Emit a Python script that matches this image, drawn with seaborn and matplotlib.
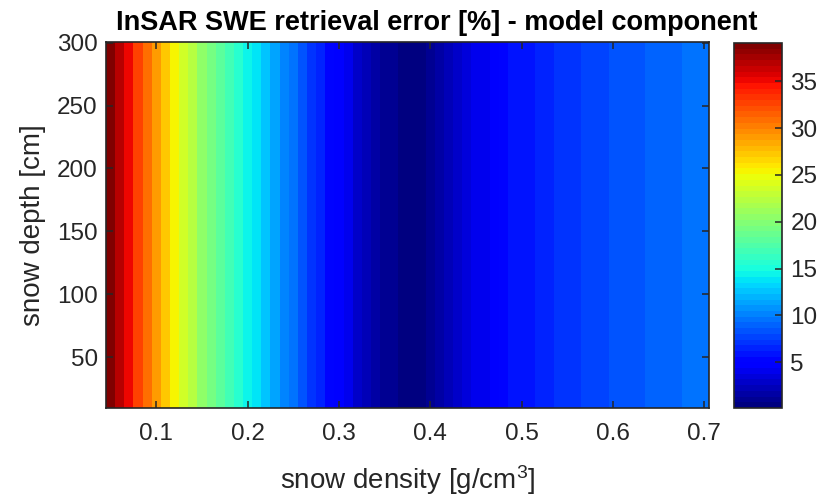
import numpy as np
import pandas as pd
import matplotlib
matplotlib.use("Agg")
import matplotlib.pyplot as plt
import seaborn as sns

# ---- data ----
density = np.round(np.arange(0.05, 0.7001, 0.01), 2)          # g/cm^3
depth = np.arange(300, 9, -1)                                   # cm (top row = 300)
error_pct = [39.1, 37.0, 34.9, 32.8, 30.8, 28.8, 27.0, 25.2, 23.6, 22.1,
             20.7, 19.4, 18.1, 16.9, 15.8, 14.7, 13.6, 12.5, 11.5, 10.4,
             9.4, 8.4, 7.4, 6.5, 5.5, 4.6, 3.8, 3.1, 2.5, 1.9,
             1.3, 0.8, 0.4, 0.1, 0.5, 1.0, 1.6, 2.2, 2.8, 3.3,
             3.8, 4.3, 4.8, 5.2, 5.6, 5.9, 6.15, 6.4, 6.65, 7.0,
             7.2, 7.4, 7.6, 7.8, 7.95, 8.1, 8.3, 8.45, 8.6, 8.75,
             8.95, 9.05, 9.15, 9.25, 9.35, 9.45]
x_ticks = [0.1, 0.2, 0.3, 0.4, 0.5, 0.6, 0.7]
y_ticks = [50, 100, 150, 200, 250, 300]
cbar_ticks = [5, 10, 15, 20, 25, 30, 35]

field = pd.DataFrame(np.tile(np.array(error_pct), (len(depth), 1)),
                     index=depth, columns=density)

# ---- style ----
plt.rcParams['font.family'] = ['Liberation Sans', 'DejaVu Sans']
plt.rcParams['mathtext.fontset'] = 'custom'
plt.rcParams['mathtext.rm'] = 'Liberation Sans'
txt = '#262626'

fig = plt.figure(figsize=(8.22, 4.97), dpi=100)
ax = fig.add_axes([106/822, 1-408/497, 603/822, 366/497])
cax = fig.add_axes([734/822, 1-408/497, 48/822, 365/497])

cmap = plt.get_cmap('jet', 64)
sns.heatmap(field, ax=ax, cbar_ax=cax, cmap=cmap, rasterized=True,
            xticklabels=False, yticklabels=False)

xpos = [int(np.argmin(np.abs(density - t))) + 0.5 for t in x_ticks]
ypos = [int(np.argmin(np.abs(depth - t))) + 0.5 for t in y_ticks]
ax.set_xticks(xpos)
ax.set_xticklabels([f"{t:g}" for t in x_ticks])
ax.set_yticks(ypos)
ax.set_yticklabels([str(t) for t in y_ticks], rotation=0)

for s in ax.spines.values():
    s.set_visible(True)
    s.set_color(txt)
    s.set_linewidth(1.2)
ax.tick_params(direction='in', top=True, right=True, length=5, width=1.1,
               color=txt, labelcolor=txt, labelsize=17.5)
ax.tick_params(axis='x', pad=11)
ax.tick_params(axis='y', pad=6)

ax.set_xlabel(r'snow density [g/cm$\mathregular{^3}$]', fontsize=20, color=txt, labelpad=13)
ax.set_ylabel('snow depth [cm]', fontsize=20, color=txt, labelpad=8)
ax.set_title('InSAR SWE retrieval error [%] - model component',
             fontsize=19.5, fontweight='bold', color='black', pad=9, x=0.548)

cb = ax.collections[0].colorbar
cb.set_ticks(cbar_ticks)
cb.outline.set_linewidth(1.2)
cb.outline.set_edgecolor(txt)
cax.tick_params(direction='in', length=5, width=1.1, color=txt,
                labelcolor=txt, labelsize=17.5, pad=6)

fig.savefig('out.png', dpi=100)
